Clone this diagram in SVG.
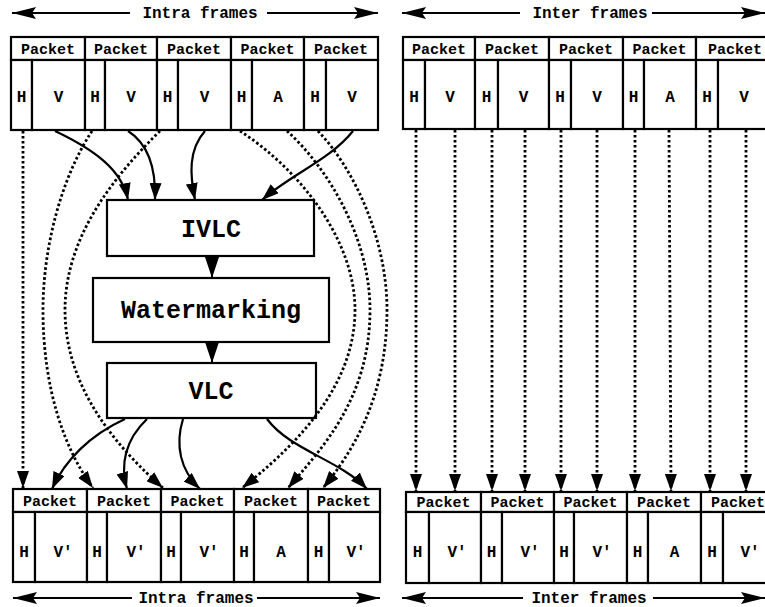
<svg xmlns="http://www.w3.org/2000/svg" width="765" height="607" viewBox="0 0 765 607">
<style>
  .box{fill:#fff;stroke:#000;stroke-width:2.2}
  .t{font-family:"Liberation Mono","DejaVu Sans Mono",monospace;font-weight:bold;fill:#000;text-anchor:middle}
  .s16{font-size:16px}
  .s15{font-size:15px}
  .big{font-size:25px}
  .sol{fill:none;stroke:#000;stroke-width:2.2;marker-end:url(#ah)}
  .chain{fill:none;stroke:#000;stroke-width:2;marker-end:url(#ch)}
  .dot{fill:none;stroke:#000;stroke-width:2.8;stroke-dasharray:2.6 2.4;marker-end:url(#ah)}
  .ttl{fill:none;stroke:#000;stroke-width:2.2}
</style>
<defs>
  <marker id="ah" markerUnits="userSpaceOnUse" viewBox="0 0 17 12" refX="17" refY="6" markerWidth="17" markerHeight="12" orient="auto">
    <path d="M0,0 L17,6 L0,12 z" fill="#000"/>
  </marker>
  <marker id="ch" markerUnits="userSpaceOnUse" viewBox="0 0 21 14" refX="21" refY="7" markerWidth="21" markerHeight="14" orient="auto">
    <path d="M0,0 L21,7 L0,14 z" fill="#000"/>
  </marker>
  <marker id="th" markerUnits="userSpaceOnUse" viewBox="0 0 24 12" refX="24" refY="6" markerWidth="24" markerHeight="12" orient="auto">
    <path d="M0,0 L24,6 L0,12 L4,6 z" fill="#000"/>
  </marker>
  <marker id="ts" markerUnits="userSpaceOnUse" viewBox="0 0 24 12" refX="0" refY="6" markerWidth="24" markerHeight="12" orient="auto">
    <path d="M24,0 L0,6 L24,12 L20,6 z" fill="#000"/>
  </marker>
</defs>
<rect width="765" height="607" fill="#fff"/>

<!-- titles -->
<g id="title-top-intra">
  <path class="ttl" d="M12,13 L130,13" marker-start="url(#ts)"/>
  <path class="ttl" d="M267,13 L378,13" marker-end="url(#th)"/>
  <text class="t s16" x="200" y="18">Intra frames</text>
</g>
<g id="title-top-inter">
  <path class="ttl" d="M402,13 L520,13" marker-start="url(#ts)"/>
  <path class="ttl" d="M652,13 L765,13" marker-end="url(#th)"/>
  <text class="t s16" x="590" y="18">Inter frames</text>
</g>
<g id="title-bot-intra">
  <path class="ttl" d="M13,598 L132,598" marker-start="url(#ts)"/>
  <path class="ttl" d="M257,598 L380,598" marker-end="url(#th)"/>
  <text class="t s16" x="196" y="603">Intra frames</text>
</g>
<g id="title-bot-inter">
  <path class="ttl" d="M402,598 L523,598" marker-start="url(#ts)"/>
  <path class="ttl" d="M653,598 L765,598" marker-end="url(#th)"/>
  <text class="t s16" x="589" y="603">Inter frames</text>
</g>

<!-- top-left packets -->
<g id="tl-p1"><rect class="box" x="11" y="37" width="74" height="23"/><rect class="box" x="11" y="60" width="21" height="70"/><rect class="box" x="32" y="60" width="53" height="70"/>
  <text class="t s15" x="48" y="54">Packet</text><text class="t s16" x="21.5" y="102">H</text><text class="t s16" x="58.5" y="102">V</text></g>
<g id="tl-p2"><rect class="box" x="85" y="37" width="72" height="23"/><rect class="box" x="85" y="60" width="20" height="70"/><rect class="box" x="105" y="60" width="52" height="70"/>
  <text class="t s15" x="121" y="54">Packet</text><text class="t s16" x="95" y="102">H</text><text class="t s16" x="131" y="102">V</text></g>
<g id="tl-p3"><rect class="box" x="157" y="37" width="74" height="23"/><rect class="box" x="157" y="60" width="21" height="70"/><rect class="box" x="178" y="60" width="53" height="70"/>
  <text class="t s15" x="194" y="54">Packet</text><text class="t s16" x="167.5" y="102">H</text><text class="t s16" x="204.5" y="102">V</text></g>
<g id="tl-p4"><rect class="box" x="231" y="37" width="73" height="23"/><rect class="box" x="231" y="60" width="21" height="70"/><rect class="box" x="252" y="60" width="52" height="70"/>
  <text class="t s15" x="267.5" y="54">Packet</text><text class="t s16" x="241.5" y="102">H</text><text class="t s16" x="278" y="102">A</text></g>
<g id="tl-p5"><rect class="box" x="304" y="37" width="74" height="23"/><rect class="box" x="304" y="60" width="22" height="70"/><rect class="box" x="326" y="60" width="52" height="70"/>
  <text class="t s15" x="341" y="54">Packet</text><text class="t s16" x="315" y="102">H</text><text class="t s16" x="352" y="102">V</text></g>

<!-- top-right packets -->
<g id="tr-p1"><rect class="box" x="403" y="37" width="72" height="23"/><rect class="box" x="403" y="60" width="22" height="69"/><rect class="box" x="425" y="60" width="50" height="69"/>
  <text class="t s15" x="439" y="54">Packet</text><text class="t s16" x="414" y="102">H</text><text class="t s16" x="450" y="102">V</text></g>
<g id="tr-p2"><rect class="box" x="475" y="37" width="74" height="23"/><rect class="box" x="475" y="60" width="23" height="69"/><rect class="box" x="498" y="60" width="51" height="69"/>
  <text class="t s15" x="512" y="54">Packet</text><text class="t s16" x="486.5" y="102">H</text><text class="t s16" x="523.5" y="102">V</text></g>
<g id="tr-p3"><rect class="box" x="549" y="37" width="74" height="23"/><rect class="box" x="549" y="60" width="22" height="69"/><rect class="box" x="571" y="60" width="52" height="69"/>
  <text class="t s15" x="586" y="54">Packet</text><text class="t s16" x="560" y="102">H</text><text class="t s16" x="597" y="102">V</text></g>
<g id="tr-p4"><rect class="box" x="623" y="37" width="73" height="23"/><rect class="box" x="623" y="60" width="21" height="69"/><rect class="box" x="644" y="60" width="52" height="69"/>
  <text class="t s15" x="659.5" y="54">Packet</text><text class="t s16" x="633.5" y="102">H</text><text class="t s16" x="670" y="102">A</text></g>
<g id="tr-p5"><rect class="box" x="696" y="37" width="74" height="23"/><rect class="box" x="696" y="60" width="22" height="69"/><rect class="box" x="718" y="60" width="52" height="69"/>
  <text class="t s15" x="735" y="54">Packet</text><text class="t s16" x="707" y="102">H</text><text class="t s16" x="744" y="102">V</text></g>

<!-- process boxes -->
<g id="ivlc"><rect class="box" x="107" y="200" width="207" height="56"/><text class="t big" x="211" y="237">IVLC</text></g>
<g id="watermarking"><rect class="box" x="93" y="278" width="236" height="64"/><text class="t big" x="211" y="318">Watermarking</text></g>
<g id="vlc"><rect class="box" x="107" y="363" width="209" height="55"/><text class="t big" x="211" y="399">VLC</text></g>

<!-- bottom-left packets -->
<g id="bl-p1"><rect class="box" x="13" y="489" width="74" height="23"/><rect class="box" x="13" y="512" width="22" height="70"/><rect class="box" x="35" y="512" width="52" height="70"/>
  <text class="t s15" x="50" y="506">Packet</text><text class="t s16" x="24" y="557">H</text><text class="t s16" x="63" y="557">V'</text></g>
<g id="bl-p2"><rect class="box" x="87" y="489" width="74" height="23"/><rect class="box" x="87" y="512" width="20" height="70"/><rect class="box" x="107" y="512" width="54" height="70"/>
  <text class="t s15" x="124" y="506">Packet</text><text class="t s16" x="97" y="557">H</text><text class="t s16" x="136" y="557">V'</text></g>
<g id="bl-p3"><rect class="box" x="161" y="489" width="73" height="23"/><rect class="box" x="161" y="512" width="20" height="70"/><rect class="box" x="181" y="512" width="53" height="70"/>
  <text class="t s15" x="197.5" y="506">Packet</text><text class="t s16" x="171" y="557">H</text><text class="t s16" x="209" y="557">V'</text></g>
<g id="bl-p4"><rect class="box" x="234" y="489" width="74" height="23"/><rect class="box" x="234" y="512" width="20" height="70"/><rect class="box" x="254" y="512" width="54" height="70"/>
  <text class="t s15" x="271" y="506">Packet</text><text class="t s16" x="244" y="557">H</text><text class="t s16" x="281" y="557">A</text></g>
<g id="bl-p5"><rect class="box" x="308" y="489" width="72" height="23"/><rect class="box" x="308" y="512" width="21" height="70"/><rect class="box" x="329" y="512" width="51" height="70"/>
  <text class="t s15" x="344" y="506">Packet</text><text class="t s16" x="318.5" y="557">H</text><text class="t s16" x="356" y="557">V'</text></g>

<!-- bottom-right packets -->
<g id="br-p1"><rect class="box" x="406" y="492" width="75" height="20"/><rect class="box" x="406" y="512" width="23" height="71"/><rect class="box" x="429" y="512" width="52" height="71"/>
  <text class="t s15" x="443.5" y="507">Packet</text><text class="t s16" x="417.5" y="557">H</text><text class="t s16" x="457" y="557">V'</text></g>
<g id="br-p2"><rect class="box" x="481" y="492" width="73" height="20"/><rect class="box" x="481" y="512" width="21" height="71"/><rect class="box" x="502" y="512" width="52" height="71"/>
  <text class="t s15" x="517.5" y="507">Packet</text><text class="t s16" x="491.5" y="557">H</text><text class="t s16" x="530" y="557">V'</text></g>
<g id="br-p3"><rect class="box" x="554" y="492" width="73" height="20"/><rect class="box" x="554" y="512" width="20" height="71"/><rect class="box" x="574" y="512" width="53" height="71"/>
  <text class="t s15" x="590.5" y="507">Packet</text><text class="t s16" x="564" y="557">H</text><text class="t s16" x="602" y="557">V'</text></g>
<g id="br-p4"><rect class="box" x="627" y="492" width="74" height="20"/><rect class="box" x="627" y="512" width="21" height="71"/><rect class="box" x="648" y="512" width="53" height="71"/>
  <text class="t s15" x="664" y="507">Packet</text><text class="t s16" x="637.5" y="557">H</text><text class="t s16" x="674.5" y="557">A</text></g>
<g id="br-p5"><rect class="box" x="701" y="492" width="74" height="20"/><rect class="box" x="701" y="512" width="22" height="71"/><rect class="box" x="723" y="512" width="52" height="71"/>
  <text class="t s15" x="738" y="507">Packet</text><text class="t s16" x="712" y="557">H</text><text class="t s16" x="750" y="557">V'</text></g>

<!-- connectors -->
<g id="connectors">
  <path class="dot" d="M23,131 L23,488"/>
  <path class="dot" d="M92,131 C60,180 43,250 43,310 C43,390 65,450 93,488"/>
  <path class="dot" d="M160,131 C110,180 65,240 65,310 C65,390 120,450 163,488"/>
  <path class="dot" d="M240,131 C300,170 355,240 355,310 C355,390 290,450 242,488"/>
  <path class="dot" d="M287,131 C330,170 370,240 370,310 C370,400 320,450 288,488"/>
  <path class="dot" d="M318,131 C355,170 387,240 387,310 C387,400 350,455 323,488"/>
  <path class="sol" d="M55,131 C95,150 122,170 128,200"/>
  <path class="sol" d="M128,131 C150,145 156,170 155,200"/>
  <path class="sol" d="M205,131 C188,150 190,175 195,200"/>
  <path class="sol" d="M353,131 C330,160 290,175 262,200"/>
  <path class="chain" d="M212,257 L212,278"/>
  <path class="chain" d="M212,343 L212,363"/>
  <path class="sol" d="M125,419 C90,435 65,460 52,489"/>
  <path class="sol" d="M147,419 C125,440 120,465 127,489"/>
  <path class="sol" d="M183,419 C175,445 180,470 200,489"/>
  <path class="sol" d="M267,419 C290,450 340,460 367,489"/>
  <path class="dot" d="M416,130 L416,491"/>
  <path class="dot" d="M455,130 L455,491"/>
  <path class="dot" d="M492,130 L492,491"/>
  <path class="dot" d="M525,130 L525,491"/>
  <path class="dot" d="M561,130 L561,491"/>
  <path class="dot" d="M597,130 L597,491"/>
  <path class="dot" d="M635,130 L635,491"/>
  <path class="dot" d="M669,130 L671,491"/>
  <path class="dot" d="M710,130 L710,491"/>
  <path class="dot" d="M746,130 L746,491"/>
</g>
</svg>
